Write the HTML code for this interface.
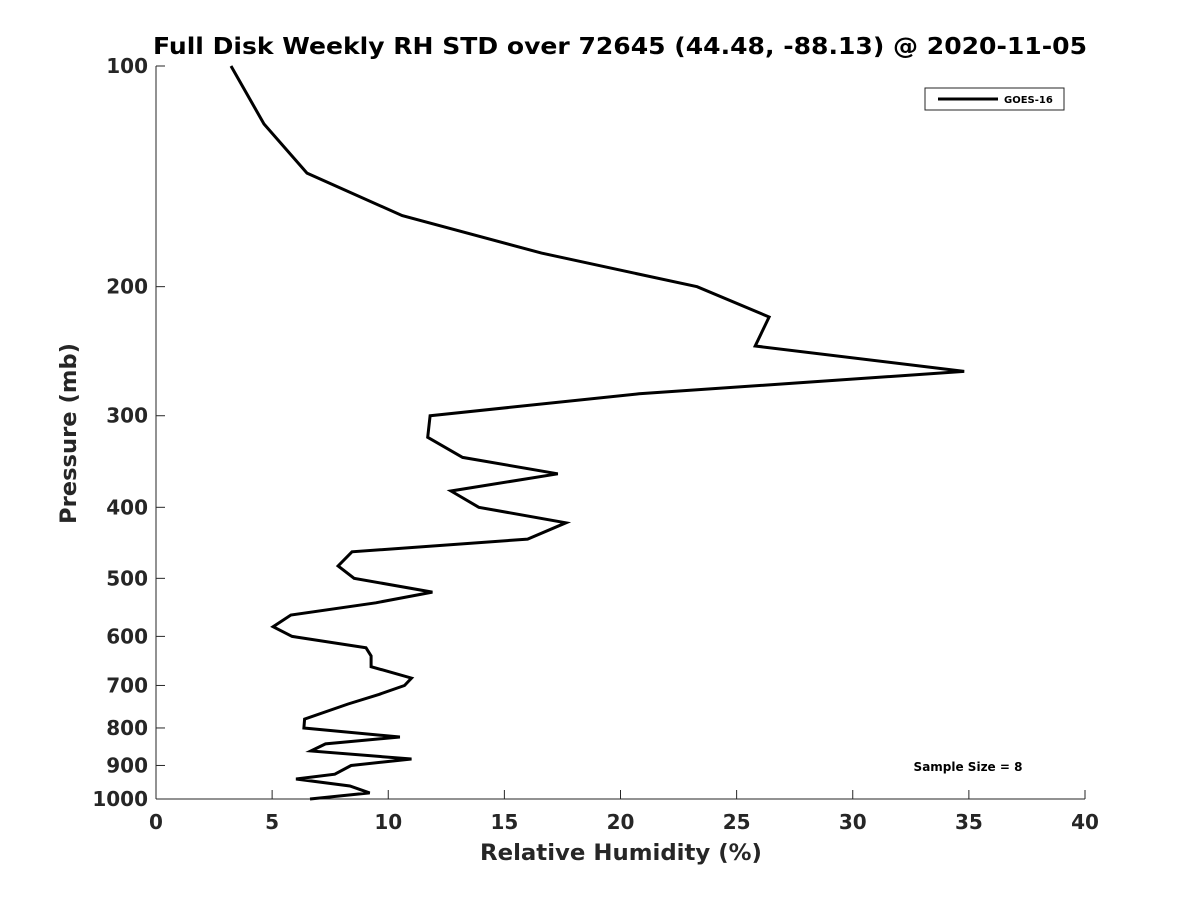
<!DOCTYPE html>
<html><head><meta charset="utf-8"><style>
body{margin:0;background:#fff;}
svg{display:block;font-family:"DejaVu Sans","Liberation Sans",sans-serif;}
</style></head><body>
<svg id="chart" width="1200" height="900"></svg>
<script>
const xTicks=[0,5,10,15,20,25,30,35,40];
const yTicks=[100,200,300,400,500,600,700,800,900,1000];
const rhValues=[3.23,4.65,6.5,10.6,16.6,23.3,26.4,25.8,34.8,20.8,11.8,11.7,13.2,17.3,12.7,13.9,17.65,16.0,8.44,7.84,8.53,11.9,9.47,5.81,5.04,5.86,9.04,9.26,9.26,11.0,10.7,9.6,8.27,6.4,6.37,10.5,7.3,6.67,11.0,8.4,7.7,6.03,8.35,9.2,6.63];
const pressures=[100,120,140,160,180,200,220,241,261,280,300,321,342,360,380,400,420,442,460,481,500,522,540,561,582,600,622,638,660,684,700,720,742,778,800,823,841,860,882,900,925,939,960,981,1000];
const L=156,R=1085,T=66,B=799;
const xs=v=>L+(v-0)/(40-0)*(R-L);
const ys=p=>T+(Math.log10(p)-2)*(B-T);
const svg=document.getElementById('chart');
const NS='http://www.w3.org/2000/svg';
function mk(tag,attrs,txt){const e=document.createElementNS(NS,tag);for(const k in attrs)e.setAttribute(k,attrs[k]);if(txt!==undefined)e.textContent=txt;svg.appendChild(e);return e;}
let e;
e=mk('text',{x:153,y:54,'font-size':23,'font-weight':'bold',fill:'#000',textLength:934,lengthAdjust:'spacingAndGlyphs'},'Full Disk Weekly RH STD over 72645 (44.48, -88.13) @ 2020-11-05');


e=mk('line',{x1:L,y1:T,x2:L,y2:B,stroke:'#262626','stroke-width':1});


e=mk('line',{x1:L,y1:B,x2:R,y2:B,stroke:'#262626','stroke-width':1});


xTicks.forEach(t=>{
 const x=xs(t);
 e=mk('line',{x1:x,y1:B,x2:x,y2:B-9,stroke:'#262626'});
 
 
 e=mk('text',{x:x,y:829,'text-anchor':'middle','font-size':20,'font-weight':'bold',fill:'#262626'},String(t));
 
 
});
yTicks.forEach(t=>{
 const y=ys(t);
 e=mk('line',{x1:L,y1:y,x2:L+9,y2:y,stroke:'#262626'});
 
 
 e=mk('text',{x:148,y:y+7,'text-anchor':'end','font-size':20,'font-weight':'bold',fill:'#262626'},String(t));
 
 
});
e=mk('text',{x:480,y:860,'font-size':22,'font-weight':'bold',fill:'#262626',textLength:282,lengthAdjust:'spacingAndGlyphs'},'Relative Humidity (%)');


e=mk('text',{x:0,y:0,'font-size':22,'font-weight':'bold',fill:'#262626',textLength:181,lengthAdjust:'spacingAndGlyphs',transform:'translate(76,524) rotate(-90)'},'Pressure (mb)');


const pts=rhValues.map((v,i)=>xs(v).toFixed(1)+','+ys(pressures[i]).toFixed(1)).join(' ');
e=mk('polyline',{points:pts,fill:'none',stroke:'#000','stroke-width':3,'stroke-linejoin':'miter'});


e=mk('rect',{x:925,y:88,width:139,height:22,fill:'#fff',stroke:'#262626','stroke-width':1});


e=mk('line',{x1:938,y1:99,x2:998,y2:99,stroke:'#000','stroke-width':3});


e=mk('text',{x:1004,y:103,'font-size':10,'font-weight':'bold',fill:'#000'},'GOES-16');


e=mk('text',{x:968,y:771,'text-anchor':'middle','font-size':12,'font-weight':'bold',fill:'#000'},'Sample Size = 8');


</script>
</body></html>
